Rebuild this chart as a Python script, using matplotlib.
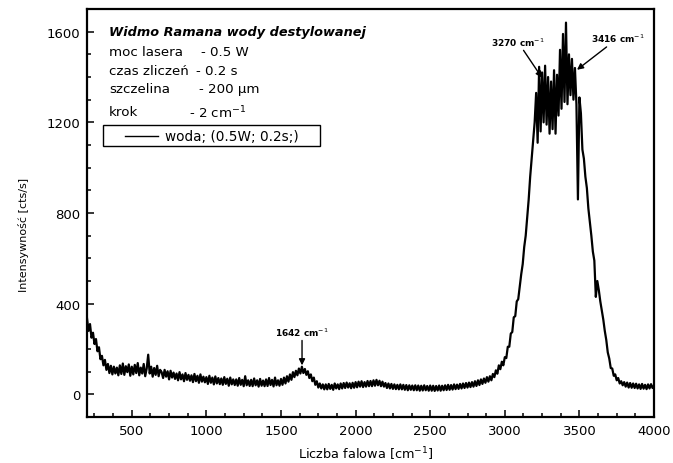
import numpy as np
import matplotlib.pyplot as plt
from matplotlib.patches import Rectangle
from matplotlib.ticker import MultipleLocator

# wavenumber grid, every 10 cm^-1 from 200 to 4000
wavenumber = np.arange(200, 4001, 10)

# counts [cts/s], one row per 100 cm^-1
intensity = [
    335, 280, 310, 250, 272, 222, 244, 190, 208, 155,     # 200
    170, 128, 152, 108, 134, 94, 126, 88, 122, 92,        # 300
    118, 84, 128, 90, 136, 86, 124, 98, 132, 82,          # 400
    122, 88, 130, 94, 138, 84, 118, 92, 134, 80,          # 500
    114, 175, 92, 122, 78, 116, 86, 126, 80, 108,         # 600
    98, 72, 108, 78, 102, 66, 104, 74, 96, 68,            # 700
    92, 62, 98, 66, 88, 58, 94, 64, 86, 60,               # 800
    84, 54, 90, 58, 82, 51, 88, 56, 78, 53,               # 900
    76, 46, 82, 51, 74, 44, 79, 48, 72, 45,               # 1000
    70, 42, 76, 46, 69, 38, 74, 44, 66, 41,               # 1100
    66, 38, 72, 42, 64, 36, 80, 40, 62, 37,               # 1200
    64, 36, 70, 40, 62, 34, 68, 38, 61, 36,               # 1300
    66, 37, 72, 41, 64, 35, 74, 40, 62, 38,               # 1400
    68, 42, 74, 48, 80, 56, 88, 64, 98, 76,               # 1500
    104, 84, 114, 92, 122, 94, 112, 86, 102, 72,          # 1600
    88, 58, 74, 42, 58, 30, 48, 26, 44, 22,               # 1700
    44, 22, 46, 24, 42, 20, 48, 26, 44, 23,               # 1800
    48, 26, 50, 28, 52, 30, 49, 27, 51, 29,               # 1900
    54, 31, 56, 34, 58, 32, 54, 34, 59, 36,               # 2000
    59, 36, 62, 38, 64, 40, 60, 36, 56, 34,               # 2100
    50, 28, 48, 26, 46, 24, 44, 23, 42, 22,               # 2200
    44, 22, 42, 20, 41, 18, 40, 20, 39, 18,               # 2300
    40, 18, 39, 16, 38, 17, 40, 18, 37, 16,               # 2400
    39, 16, 38, 15, 37, 17, 39, 16, 38, 18,               # 2500
    40, 19, 42, 20, 41, 21, 44, 23, 43, 24,               # 2600
    46, 26, 48, 28, 50, 30, 52, 32, 54, 34,               # 2700
    58, 37, 62, 41, 66, 46, 70, 51, 76, 56,               # 2800
    80, 62, 90, 76, 106, 91, 128, 111, 144, 128,          # 2900
    164, 160, 210, 210, 268, 275, 340, 345, 410, 420,     # 3000
    475, 530, 575, 650, 700, 780, 860, 960, 1040, 1120,   # 3100
    1200, 1330, 1110, 1445, 1160, 1420, 1200, 1450, 1190, 1400,  # 3200
    1150, 1380, 1170, 1430, 1150, 1410, 1230, 1520, 1260, 1590,  # 3300
    1290, 1640, 1280, 1500, 1320, 1480, 1300, 1440, 1280, 860,   # 3400
    1310, 1240, 1080, 1040, 960, 910, 820, 760, 700, 630,        # 3500
    590, 430, 500, 460, 410, 370, 330, 280, 240, 185,     # 3600
    158, 116, 114, 82, 88, 62, 72, 48, 58, 40,            # 3700
    54, 34, 52, 30, 50, 29, 48, 28, 47, 26,               # 3800
    44, 24, 46, 25, 42, 23, 44, 26, 45, 28,               # 3900
    40,                                                   # 4000
]

series_label = "woda; (0.5W; 0.2s;)"
title = "Widmo Ramana wody destylowanej"
params = ["moc lasera", "czas zliczeń", "szczelina", "krok"]
param_values = ["- 0.5 W", "- 0.2 s", "- 200 µm", "- 2 cm$^{-1}$"]

# peaks marked with arrows: (label, arrow tip, text position)
peaks = [
    ("1642 cm$^{-1}$", (1641, 128), (1641, 250)),
    ("3270 cm$^{-1}$", (3249, 1397), (3085, 1530)),
    ("3416 cm$^{-1}$", (3484, 1432), (3760, 1545)),
]

plt.rcParams['font.family'] = 'DejaVu Sans'

fig = plt.figure(figsize=(6.73, 4.64), dpi=100)
ax = fig.add_axes([0.1293, 0.0991, 0.8425, 0.8793])

ax.plot(wavenumber, intensity, color='black', lw=1.6)

ax.set_xlim(200, 4000)
ax.set_ylim(-100, 1700)
ax.xaxis.set_major_locator(MultipleLocator(500))
ax.xaxis.set_minor_locator(MultipleLocator(125))
ax.yaxis.set_major_locator(MultipleLocator(400))
ax.yaxis.set_minor_locator(MultipleLocator(100))
ax.tick_params(which='both', direction='in', width=1.1, labelsize=9.5)
ax.tick_params(which='major', length=5, pad=5)
ax.tick_params(which='minor', length=3)
for sp in ax.spines.values():
    sp.set_linewidth(1.6)

ax.set_xlabel("Liczba falowa [cm$^{-1}$]", fontsize=9.3)
ax.xaxis.set_label_coords(0.492, -0.068)
ax.set_ylabel("Intensywność [cts/s]", fontsize=8)
ax.yaxis.set_label_coords(-0.102, 0.449)

# measurement info block
ax.text(0.039, 0.946, title, transform=ax.transAxes, fontsize=9.3,
        fontweight='bold', fontstyle='italic', va='center')
rows_y = [0.897, 0.850, 0.804, 0.748]
vals_x = [0.201, 0.192, 0.198, 0.180]
for name, val, y, vx in zip(params, param_values, rows_y, vals_x):
    ax.text(0.039, y, name, transform=ax.transAxes, fontsize=9.6, va='center')
    ax.text(vx, y, val, transform=ax.transAxes, fontsize=9.6, va='center')

# legend box, drawn by hand to get the wide frame
ax.add_patch(Rectangle((0.028, 0.664), 0.383, 0.052, transform=ax.transAxes,
                       fill=False, edgecolor='black', lw=1.0))
ax.plot([0.067, 0.125], [0.690, 0.690], transform=ax.transAxes,
        color='black', lw=1.0)
ax.text(0.138, 0.690, series_label, transform=ax.transAxes, fontsize=9.8,
        va='center')

for label, tip, pos in peaks:
    ax.annotate(label, xy=tip, xytext=pos, fontsize=6.5, fontweight='bold',
                ha='center', va='bottom',
                arrowprops=dict(arrowstyle='-|>', color='black', lw=1.0,
                                mutation_scale=9, shrinkA=0, shrinkB=0))

fig.savefig("out.png", dpi=100)
